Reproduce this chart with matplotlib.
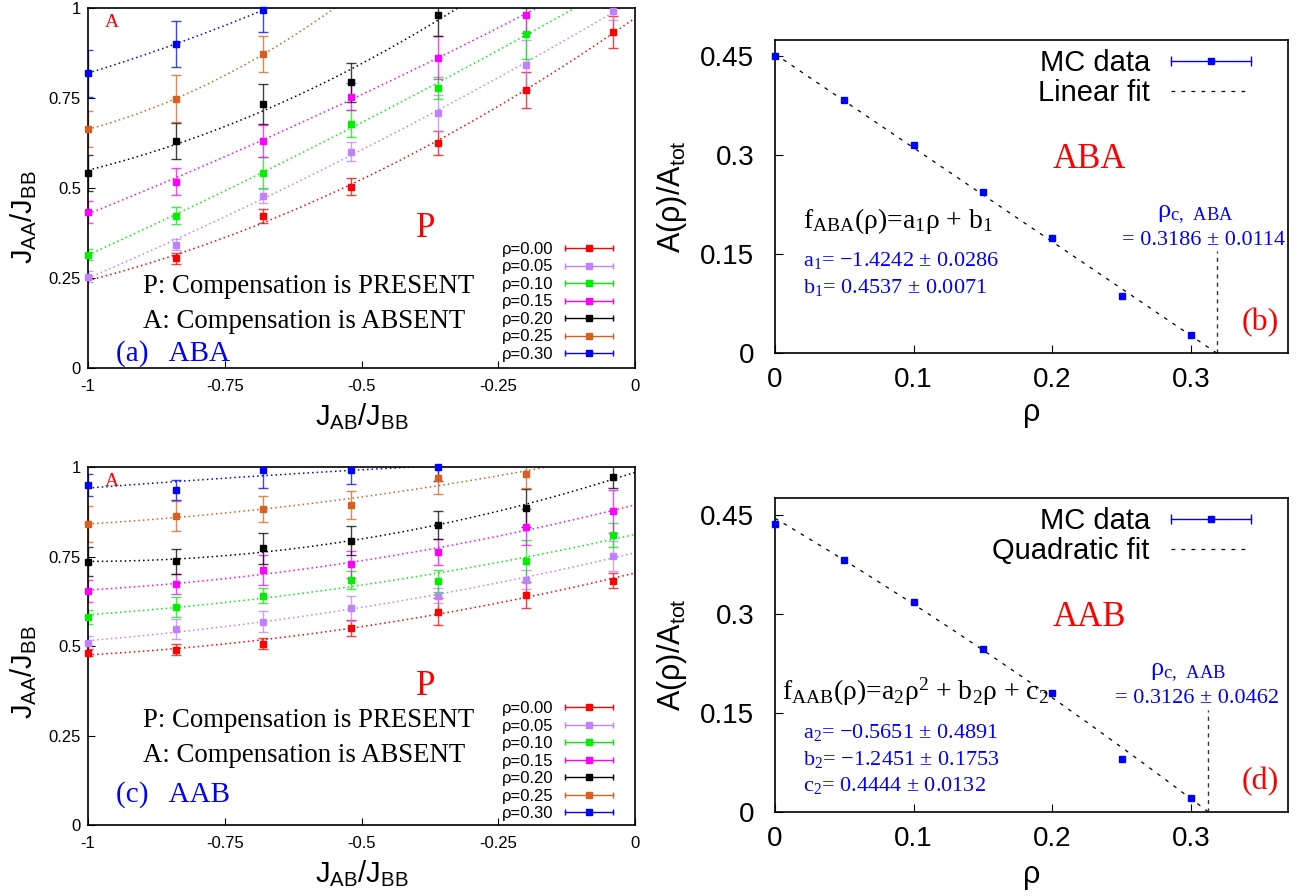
import numpy as np
import matplotlib
matplotlib.use('Agg')
import matplotlib.pyplot as plt
from matplotlib.legend_handler import HandlerBase
from matplotlib.lines import Line2D

plt.rcParams['font.family'] = ['Liberation Sans', 'DejaVu Sans']
plt.rcParams['mathtext.default'] = 'regular'
plt.rcParams['axes.unicode_minus'] = False
SERIF = ['Liberation Serif', 'DejaVu Serif']
nan = np.nan

# ---- data -------------------------------------------------------------
j_ab = [-1.0, -0.84, -0.68, -0.52, -0.36, -0.2, -0.04]
rho_labels = ['ρ=0.00', 'ρ=0.05', 'ρ=0.10', 'ρ=0.15', 'ρ=0.20', 'ρ=0.25', 'ρ=0.30']
colors = ['#ff0000', '#c080ff', '#00f000', '#ff00ff', '#000000', '#d95f1e', '#0000ff']

# panel (a)  ABA : J_AA/J_BB vs J_AB/J_BB
aba_y = [
    [nan, 0.305, 0.423, 0.504, 0.625, 0.772, 0.933],
    [0.254, 0.343, 0.478, 0.601, 0.709, 0.842, 0.992],
    [0.315, 0.423, 0.543, 0.679, 0.778, 0.929, nan],
    [0.434, 0.518, 0.631, 0.754, 0.862, 0.981, nan],
    [0.541, 0.631, 0.734, 0.793, 0.981, nan, nan],
    [0.663, 0.748, 0.871, nan, nan, nan, nan],
    [0.819, 0.900, 0.994, nan, nan, nan, nan],
]
aba_err = [
    [nan, 0.015, 0.02, 0.023, 0.033, 0.05, 0.045],
    [0.015, 0.015, 0.02, 0.027, 0.05, 0.07, 0.025],
    [0.016, 0.023, 0.043, 0.037, 0.03, 0.07, nan],
    [0.03, 0.037, 0.045, 0.037, 0.06, 0.05, nan],
    [0.05, 0.05, 0.055, 0.055, 0.06, nan, nan],
    [0.05, 0.065, 0.05, nan, nan, nan, nan],
    [0.065, 0.064, 0.06, nan, nan, nan, nan],
]

# panel (c)  AAB
aab_y = [
    [0.481, 0.490, 0.506, 0.551, 0.596, 0.643, 0.682],
    [0.509, 0.547, 0.568, 0.606, 0.640, 0.685, 0.752],
    [0.581, 0.610, 0.640, 0.684, 0.682, 0.737, 0.810],
    [0.654, 0.674, 0.712, 0.728, 0.763, 0.833, 0.877],
    [0.736, 0.737, 0.773, 0.794, 0.838, 0.886, 0.972],
    [0.840, 0.863, 0.883, 0.894, 0.970, 0.981, nan],
    [0.950, 0.936, 0.992, 0.992, 1.000, nan, nan],
]
aab_err = [
    [0.01, 0.015, 0.015, 0.022, 0.037, 0.037, 0.021],
    [0.02, 0.028, 0.03, 0.035, 0.021, 0.026, 0.042],
    [0.02, 0.028, 0.021, 0.025, 0.03, 0.058, 0.033],
    [0.03, 0.028, 0.042, 0.037, 0.037, 0.05, 0.06],
    [0.04, 0.035, 0.044, 0.041, 0.04, 0.053, 0.03],
    [0.05, 0.041, 0.036, 0.038, 0.045, 0.04, nan],
    [0.03, 0.028, 0.05, 0.04, 0.04, nan, nan],
]

j_xticks = [-1, -0.75, -0.5, -0.25, 0]
j_xticklabels = ['-1', '-0.75', '-0.5', '-0.25', '0']
j_yticks = [0, 0.25, 0.5, 0.75, 1]
j_yticklabels = ['0', '0.25', '0.5', '0.75', '1']

# panels (b), (d): area fraction vs rho
rho = [0.0, 0.05, 0.1, 0.15, 0.2, 0.25, 0.3]
area_aba = [0.450, 0.384, 0.316, 0.245, 0.1745, 0.086, 0.028]
area_aab = [0.435, 0.381, 0.317, 0.247, 0.1795, 0.080, 0.0216]
a1, b1 = -1.4242, 0.4537
a2, b2, c2 = -0.5651, -1.2451, 0.4444
rho_c_aba = 0.3186
rho_c_aab = 0.3126

r_xticks = [0, 0.1, 0.2, 0.3]
r_xticklabels = ['0', '0.1', '0.2', '0.3']
r_yticks = [0, 0.15, 0.3, 0.45]
r_yticklabels = ['0', '0.15', '0.3', '0.45']


class ErrKey(HandlerBase):
    # gnuplot-like key: horizontal bar with end caps and a square in the middle
    def __init__(self, cap=5, **kw):
        super().__init__(**kw)
        self.cap = cap

    def create_artists(self, legend, orig, xd, yd, w, h, fs, trans):
        y = h / 2 - yd
        x0, x1 = -xd, -xd + w
        c = orig.get_color()
        bar = Line2D([x0, x1], [y, y], color=c, lw=1.0, transform=trans)
        caps = Line2D([x0, x1], [y, y], ls='none', marker='|', ms=self.cap,
                      mew=1.0, color=c, transform=trans)
        mk = Line2D([(x0 + x1) / 2], [y], ls='none', marker='s',
                    ms=orig.get_markersize(), color=c, transform=trans)
        return [bar, caps, mk]


def j_panel(ax, ydata, edata, tag, y_p, y_txt, leg_y, xlab_y, ylab_y):
    xs = np.linspace(-1, 0, 300)
    xj_all = np.array(j_ab)
    handles = []
    for y, e, c in zip(ydata, edata, colors):
        y = np.array(y, float)
        e = np.array(e, float)
        ok = ~np.isnan(y)
        coef = np.polyfit(xj_all[ok], y[ok], 2)
        ax.plot(xs, np.polyval(coef, xs), ls=(0, (1, 2)), color=c, lw=1.1)
        ax.errorbar(xj_all[ok], y[ok], yerr=e[ok], fmt='none', ecolor=c,
                    elinewidth=1.0, capsize=3.5, capthick=1.0, alpha=0.75)
        h, = ax.plot(xj_all[ok], y[ok], 's', color=c, ms=5, clip_on=False, zorder=3)
        handles.append(h)
    ax.set_xlim(-1, 0)
    ax.set_ylim(0, 1)
    ax.set_xticks(j_xticks)
    ax.set_xticklabels(j_xticklabels)
    ax.set_yticks(j_yticks)
    ax.set_yticklabels(j_yticklabels)
    ax.tick_params(direction='in', length=5, labelsize=12)
    ax.tick_params(axis='x', pad=8)
    ax.tick_params(axis='y', pad=5)
    ax.set_xlabel(r'J$_{AB}$/J$_{BB}$', fontsize=21, va='center')
    ax.set_ylabel(r'J$_{AA}$/J$_{BB}$', fontsize=21, va='center')
    ax.xaxis.set_label_coords(0.5, xlab_y)
    ax.yaxis.set_label_coords(-0.117, ylab_y)
    for s in ax.spines.values():
        s.set_linewidth(1.2)

    ax.text(0.031, 0.948, 'A', color='red', fontsize=14, family=SERIF,
            transform=ax.transAxes, va='baseline')
    ax.text(0.6, y_p, 'P', color='red', fontsize=25, family=SERIF,
            transform=ax.transAxes, va='baseline')
    ax.text(0.1005, y_txt[0], 'P: Compensation is PRESENT', fontsize=19.3,
            family=SERIF, transform=ax.transAxes, va='baseline')
    ax.text(0.1005, y_txt[1], 'A: Compensation is ABSENT', fontsize=19.3,
            family=SERIF, transform=ax.transAxes, va='baseline')
    ax.text(0.051, y_txt[2], tag, color='blue', fontsize=21, family=SERIF,
            transform=ax.transAxes, va='baseline')

    leg = ax.legend(handles, rho_labels, loc='lower right', bbox_to_anchor=(0.96, leg_y),
                    frameon=False, markerfirst=False, fontsize=12, labelspacing=0.15,
                    handlelength=2.9, handletextpad=0.66, borderpad=0, borderaxespad=0,
                    handler_map={h: ErrKey(cap=5) for h in handles})
    return leg


def r_panel(ax, area, fitfun, rho_c, fitlabel, name, tag, txt, xlab_y):
    ax.set_xlim(0, 0.37)
    ax.set_ylim(0, 0.475)
    rr = np.linspace(0, rho_c, 200)
    fl, = ax.plot(rr, fitfun(rr), color='black', lw=0.9, ls=(0, (3, 5)))
    h, = ax.plot(rho, area, 's', color='blue', ms=4.5, clip_on=False, zorder=3)
    ax.plot([rho_c, rho_c], [0, 0.155], color='#333333', lw=1.0, ls=(0, (3, 3)))
    ax.set_xticks(r_xticks)
    ax.set_xticklabels(r_xticklabels)
    ax.set_yticks(r_yticks)
    ax.set_yticklabels(r_yticklabels)
    ax.tick_params(direction='in', length=6, labelsize=20)
    ax.tick_params(axis='x', pad=10)
    ax.tick_params(axis='y', pad=15)
    ax.set_xlabel('ρ', fontsize=22, va='center')
    ax.set_ylabel(r'A(ρ)/A$_{tot}$', fontsize=22, va='center')
    ax.xaxis.set_label_coords(0.5, xlab_y)
    ax.yaxis.set_label_coords(-0.2, 0.5)
    for s in ax.spines.values():
        s.set_linewidth(1.2)

    ax.legend([h, fl], ['MC data', fitlabel], loc='upper right', bbox_to_anchor=(0.928, 0.972),
              frameon=False, markerfirst=False, fontsize=21, labelspacing=0.08,
              handlelength=2.75, handletextpad=0.72, borderpad=0, borderaxespad=0,
              handler_map={h: ErrKey(cap=7)})

    ax.text(0.542, 0.591, name, color='red', fontsize=25, family=SERIF,
            transform=ax.transAxes, va='baseline')
    ax.text(0.946, 0.073, tag, color='red', fontsize=23, family=SERIF,
            transform=ax.transAxes, va='baseline', ha='center')
    for x, y, s, c, fs in txt:
        ax.text(x, y, s, color=c, fontsize=fs, family=SERIF,
                transform=ax.transAxes, va='baseline')


fig = plt.figure(figsize=(13.06, 8.96), dpi=100)
ax_a = fig.add_axes([0.0674, 0.5893, 0.4188, 0.4018])
ax_c = fig.add_axes([0.0674, 0.0792, 0.4188, 0.3996])
ax_b = fig.add_axes([0.5934, 0.606, 0.3928, 0.3494])
ax_d = fig.add_axes([0.5934, 0.0938, 0.3928, 0.3504])

j_panel(ax_a, aba_y, aba_err, '(a)   ABA', 0.364, [0.208, 0.111, 0.019], 0.017, -0.135, 0.42)
j_panel(ax_c, aab_y, aab_err, '(c)   AAB', 0.363, [0.274, 0.176, 0.064], 0.011, -0.137, 0.427)

r_panel(ax_b, area_aba, lambda r: a1 * r + b1, rho_c_aba, 'Linear fit', 'ABA', '(b)', [
    (0.0546, 0.40, r'f$_{ABA}$(ρ)=a$_1$ρ + b$_1$', 'black', 20),
    (0.0546, 0.278, 'a$_1$= −%.4f ± 0.0286' % abs(a1), 'blue', 16),
    (0.0546, 0.192, 'b$_1$= %.4f ± 0.0071' % b1, 'blue', 16),
    (0.745, 0.434, r'ρ$_{c,\ ABA}$', 'blue', 19),
    (0.676, 0.345, '= %.4f ± 0.0114' % rho_c_aba, 'blue', 16),
], -0.19)
r_panel(ax_d, area_aab, lambda r: a2 * r ** 2 + b2 * r + c2, rho_c_aab, 'Quadratic fit', 'AAB', '(d)', [
    (0.0136, 0.357, r'f$_{AAB}$(ρ)=a$_2$ρ$^2$ + b$_2$ρ + c$_2$', 'black', 20),
    (0.0546, 0.236, 'a$_2$= −%.4f ± 0.4891' % abs(a2), 'blue', 16),
    (0.0546, 0.150, 'b$_2$= −%.4f ± 0.1753' % abs(b2), 'blue', 16),
    (0.0546, 0.067, 'c$_2$= %.4f ± 0.0132' % c2, 'blue', 16),
    (0.732, 0.436, r'ρ$_{c,\ AAB}$', 'blue', 19),
    (0.663, 0.347, '= %.4f ± 0.0462' % rho_c_aab, 'blue', 16),
], -0.2)

fig.savefig('out.png', dpi=100)
